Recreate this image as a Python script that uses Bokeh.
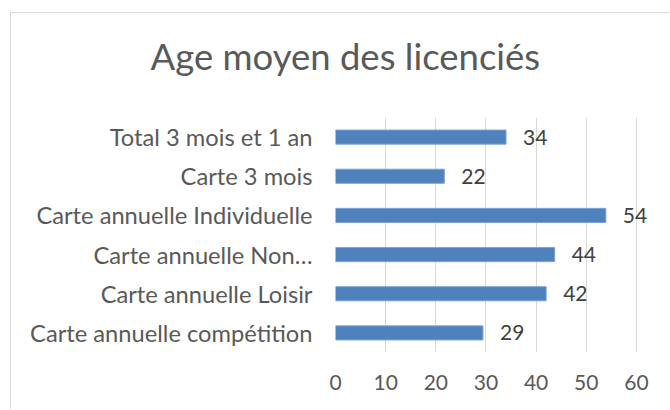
from bokeh.plotting import figure
from bokeh.models import FactorRange, Range1d, ColumnDataSource, FixedTicker, Title
from bokeh.core.properties import value
from bokeh.embed import file_html
from bokeh.resources import INLINE

categories = ["Total 3 mois et 1 an", "Carte 3 mois", "Carte annuelle Individuelle",
              "Carte annuelle Non…", "Carte annuelle Loisir", "Carte annuelle compétition"]
ages = [34.0, 21.7, 53.9, 43.7, 42.0, 29.4]
x_ticks = [0, 10, 20, 30, 40, 50, 60]
title_text = "Age moyen des licenciés"

labels = [f"{v:.0f}" for v in ages]
src = ColumnDataSource(data=dict(cats=categories, ages=ages, labels=labels))

W, H = 659, 397
p = figure(width=W, height=H,
           y_range=FactorRange(factors=categories[::-1], range_padding=0),
           x_range=Range1d(0, 65),
           output_backend="svg", toolbar_location=None,
           min_border_left=324, min_border_right=9,
           min_border_top=104, min_border_bottom=58)
p.margin = (12, 0, 0, 10)
p.styles = {"border-left": "1px solid #d9d9d9", "border-top": "1px solid #d9d9d9"}
p.outline_line_color = None
p.background_fill_color = "white"
p.border_fill_color = "white"
p.title = None

# spacer panel between the title and the plot frame
spacer = Title(text=" ", text_font_size="1px", standoff=37, text_color="white")
p.add_layout(spacer, "above")
main_title = Title(text=title_text, align="left", offset=-185, standoff=0,
                   text_font="Lato", text_font_size="36.5px", text_font_style="normal",
                   text_color="#595959")
p.add_layout(main_title, "above")

p.hbar(y="cats", right="ages", left=0, height=0.36, source=src,
       fill_color="#4F81BD", line_color="#7aa3d6", line_width=1)

p.text(x="ages", y="cats", text="labels", source=src, x_offset=17,
       text_align="left", text_baseline="middle",
       text_font=value("Lato"), text_font_size="21px", text_color="#404040")

p.xaxis.ticker = FixedTicker(ticks=x_ticks)
p.xaxis.axis_line_color = None
p.xaxis.major_tick_line_color = None
p.xaxis.minor_tick_line_color = None
p.xaxis.major_label_standoff = 16
p.xaxis.major_label_text_font = "Lato"
p.xaxis.major_label_text_font_size = "21px"
p.xaxis.major_label_text_color = "#595959"

p.yaxis.axis_line_color = None
p.yaxis.major_tick_line_color = None
p.yaxis.minor_tick_line_color = None
p.yaxis.major_label_standoff = 17
p.yaxis.major_label_text_font = "Lato"
p.yaxis.major_label_text_font_size = "23.7px"
p.yaxis.major_label_text_color = "#595959"

p.ygrid.grid_line_color = None
p.xgrid.grid_line_color = "#d9d9d9"
p.xgrid.grid_line_width = 1

open("out.html", "w").write(file_html(p, INLINE))
